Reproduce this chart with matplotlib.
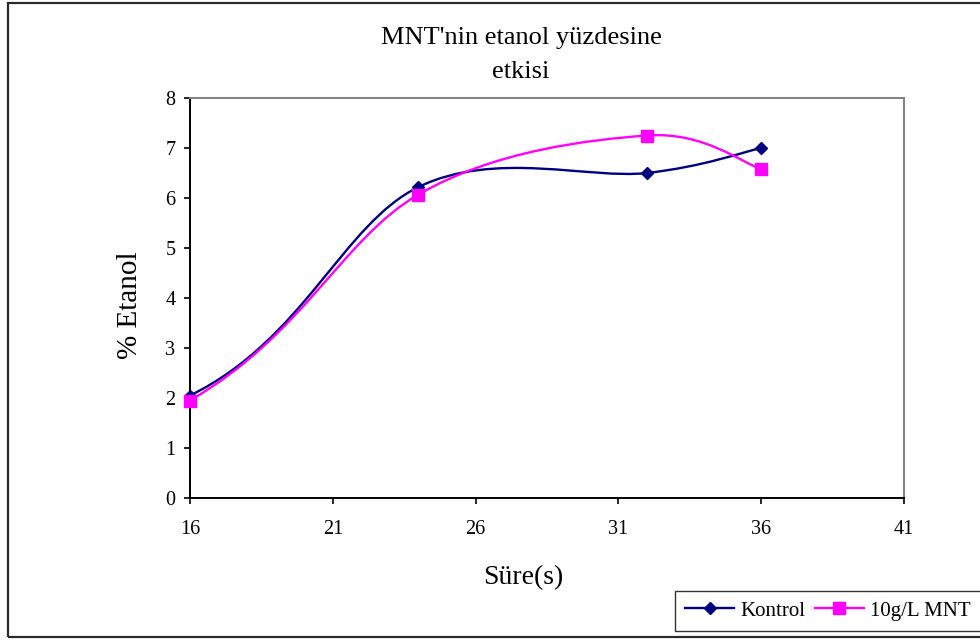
import numpy as np
import matplotlib
matplotlib.use("Agg")
import matplotlib.pyplot as plt
from matplotlib.path import Path
from matplotlib.patches import PathPatch, Rectangle
from matplotlib.lines import Line2D

# Data
sure = [16, 24, 32, 36]
kontrol = [2.05, 6.22, 6.50, 7.00]
mnt_10gL = [1.95, 6.07, 7.25, 6.58]

x_ticks = [16, 21, 26, 31, 36, 41]
y_ticks = [0, 1, 2, 3, 4, 5, 6, 7, 8]

title_text = "MNT'nin etanol yüzdesine\netkisi"
x_label = "Süre(s)"
y_label = "% Etanol"
series_labels = ["Kontrol", "10g/L MNT"]

KONTROL_COLOR = "#000080"
MNT_COLOR = "#FF00FF"

plt.rcParams["font.family"] = ["Liberation Serif", "DejaVu Serif"]


def smooth_path(xs, ys, start_arm=0.25):
    """Cubic Bezier path through the points (Excel-style smoothed line)."""
    pts = np.column_stack([xs, ys]).astype(float)
    n = len(pts)
    verts = [pts[0]]
    codes = [Path.MOVETO]
    for i in range(n - 1):
        p0, p1 = pts[i], pts[i + 1]
        if i == 0:
            c1 = p0 + (pts[min(2, n - 1)] - p0) * start_arm
        else:
            c1 = p0 + (p1 - pts[i - 1]) / 6.0
        if i + 1 == n - 1:
            c2 = p1 - (p1 - p0) / 6.0
        else:
            c2 = p1 - (pts[i + 2] - p0) / 6.0
        verts += [c1, c2, p1]
        codes += [Path.CURVE4] * 3
    return Path(verts, codes)


fig = plt.figure(figsize=(9.8, 6.4), dpi=100)
fig.patch.set_facecolor("white")

# Outer chart frame (runs past the right edge)
fig.patches.append(Rectangle((7.5 / 980, 3 / 640), 1.2, 634 / 640,
                             transform=fig.transFigure, fill=False,
                             edgecolor="#2b2b2b", lw=1.6, clip_on=False))

ax = fig.add_axes([190 / 980, 142 / 640, 714 / 980, 400 / 640])
ax.set_xlim(16, 41)
ax.set_ylim(0, 8)
ax.set_xticks(x_ticks)
ax.set_yticks(y_ticks)
ax.set_xticklabels([str(v) for v in x_ticks])
ax.set_yticklabels([str(v) for v in y_ticks])

for side in ("left", "bottom"):
    ax.spines[side].set_color("black")
    ax.spines[side].set_linewidth(1.4)
for side in ("top", "right"):
    ax.spines[side].set_color("#808080")
    ax.spines[side].set_linewidth(1.4)

ax.tick_params(axis="both", direction="out", length=4.5, width=1.2,
               color="black", labelsize=14.5)
ax.tick_params(axis="x", pad=11)
ax.tick_params(axis="y", pad=6)

series = [
    (kontrol, KONTROL_COLOR, "D", 6.6, series_labels[0]),
    (mnt_10gL, MNT_COLOR, "s", 8.0, series_labels[1]),
]
handles = []
for k, (vals, color, marker, ms, label) in enumerate(series):
    ax.add_patch(PathPatch(smooth_path(sure, vals), facecolor="none",
                           edgecolor=color, lw=1.7, zorder=2 + k,
                           clip_on=False))
    ax.plot(sure, vals, linestyle="none", marker=marker, markersize=ms,
            color=color, zorder=4 + k, clip_on=False)
    handles.append(Line2D([], [], color=color, lw=1.7, marker=marker,
                          markersize=ms, label=label))

fig.text(521 / 980, 1 - 55 / 640, title_text, ha="center", va="center",
         fontsize=19, linespacing=1.65)
fig.text(523 / 980, 1 - 578 / 640, x_label, ha="center", va="center",
         fontsize=20)
fig.text(130 / 980, 1 - 305 / 640, y_label, ha="center", va="center",
         fontsize=21, rotation=90)

leg = fig.legend(handles=handles, loc="lower left",
                 bbox_to_anchor=(675 / 980, 9 / 640), ncol=2, frameon=True,
                 fancybox=False, fontsize=15, handlelength=2.35,
                 handletextpad=0.3, columnspacing=0.45, borderpad=0.5,
                 borderaxespad=0)
leg.get_frame().set_edgecolor("black")
leg.get_frame().set_linewidth(1.0)

fig.savefig("out.png", dpi=100)
